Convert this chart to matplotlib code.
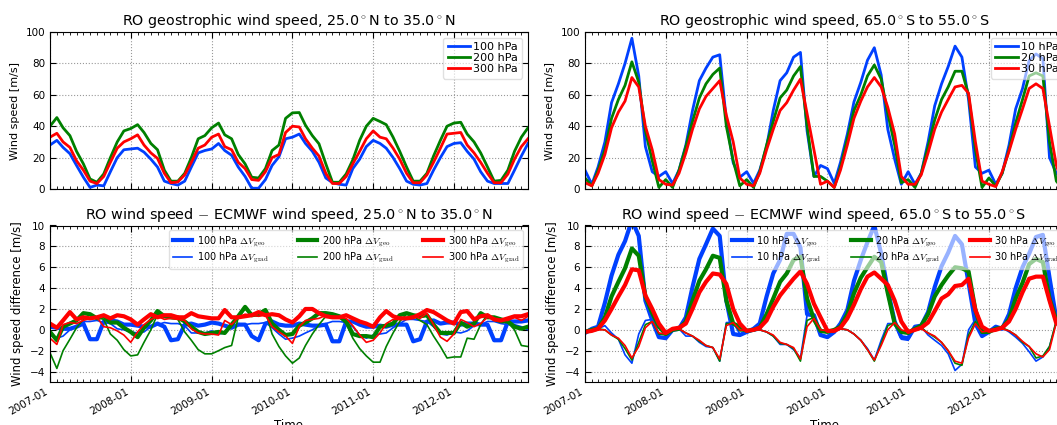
import numpy as np
import pandas as pd
import matplotlib
matplotlib.use('Agg')
import matplotlib.pyplot as plt
import matplotlib.dates as mdates

plt.rcParams['mathtext.fontset'] = 'cm'
plt.rcParams['font.family'] = 'DejaVu Sans'

dates = pd.date_range('2007-01-01', periods=72, freq='MS')

# --- geostrophic wind speed, 25N-35N [m/s]
nh_100 = [28, 31, 26.5, 22.5, 15, 7.5, 1, 2.5, 2, 11, 20, 25,
          25.5, 26, 23.5, 19, 14, 5, 3.5, 2.5, 5, 14, 23, 24.5,
          25.5, 29, 24.5, 21.5, 14, 8, 0.5, 0.5, 6, 15, 20.5, 32,
          33, 35, 29, 24, 17, 7, 4, 3, 2.5, 13, 19, 27,
          31, 29, 26, 20, 13, 5, 3, 2.5, 3.5, 12, 20, 27,
          29, 29.5, 24, 19, 11, 5, 3.5, 3.5, 3.5, 12, 21, 29]
nh_200 = [40, 45.5, 39, 34, 24, 16, 6.4, 4.3, 9.6, 20, 30, 37,
          38.5, 41, 36, 29, 25, 12, 5, 5, 10, 20, 32, 34,
          39, 42, 34.5, 32, 22, 16, 7.5, 7, 13, 24.5, 28, 45,
          48.5, 48.7, 40.6, 34, 28.8, 16, 4.3, 4.3, 9.6, 18.6, 31, 40,
          45, 43, 41, 33, 24, 14, 5, 5, 10, 21, 31, 40,
          42, 42.5, 35, 30, 23, 14, 5, 5.5, 12, 24, 33, 39]
nh_300 = [33, 35.5, 30, 26.5, 18, 12, 5, 3.5, 8, 17, 26, 30,
          32, 34.5, 28, 23, 19.5, 10, 4, 4.5, 9, 17, 26, 28,
          33, 35, 27, 25, 17, 13, 6, 5.5, 11, 20, 22, 36,
          40, 39.5, 32, 26, 21, 10, 3.5, 3.5, 8, 16, 24, 32,
          37, 33, 32, 26, 19, 10, 4, 4, 9, 17, 26, 35,
          35.5, 36, 28, 23, 17, 10, 4, 4, 9.5, 19, 27, 32]

# --- geostrophic wind speed, 65S-55S [m/s]
sh_10 = [12, 3, 14, 30, 55, 67, 80, 96, 72, 27, 11, 8,
         11, 3.5, 12, 28, 50, 69, 77, 84, 85.5, 44, 16.7, 7.5,
         11, 3.6, 12, 27, 50, 69, 74, 84, 87, 37, 8, 15,
         13, 3.6, 17, 35, 55.5, 68, 82, 90, 72.6, 38, 19, 3,
         11, 3, 10, 30, 53, 67, 78, 91, 84, 57, 14, 10,
         12, 3, 10, 28, 51, 64, 82, 86, 83, 20, 10, 5]
sh_20 = [7, 2, 12, 25, 45, 57, 66, 81, 68, 37, 18, 1,
         6, 1, 12, 27, 43, 58, 67, 73, 77, 40, 18, 2,
         6, 1, 11, 28, 43, 58, 63, 72, 78, 40, 8, 8,
         5, 1, 14, 32, 50, 60, 72, 79, 70, 48, 28, 4,
         6, 1, 10, 27, 44, 57, 65, 75, 75, 60, 25, 1,
         7, 2, 10, 25, 42, 57, 72, 74, 72, 30, 5, 0]
sh_30 = [4, 2, 10, 22, 39, 49, 56, 71, 65, 40, 25, 6,
         3, 2.5, 10, 23, 38, 51, 59, 64, 69, 47, 30, 7,
         3, 2, 10, 25, 38, 50, 55, 63, 70, 48, 25, 3,
         5, 1, 12, 28, 45, 56, 65, 71, 65, 52, 35, 8,
         3, 3, 9, 23, 38, 49, 57, 65, 66, 61, 30, 5,
         3, 1.5, 11, 24, 38, 51, 64, 67, 64, 40, 15, 3]

# --- RO - ECMWF differences, 25N-35N [m/s]
nh_100_geo = [0.3, 0.2, 0.1, 0.1, 0.3, 0.6, -0.9, -0.9, 0.8, 0.9, 0.8, 0.5,
              0.5, 0.4, 0.3, 0.3, 0.6, 0.3, -1.0, -0.9, 0.5, 0.6, 0.4, 0.5,
              0.7, 0.6, 0.4, 0.2, 0.5, 0.5, -0.6, -1.0, 0.6, 0.8, 0.5, 0.4,
              0.4, 0.6, 0.5, 0.4, 0.4, 0.5, -1.1, -1.1, 0.8, 0.8, 0.5, 0.3,
              0.3, 0.4, 0.3, 0.5, 0.5, 0.5, -1.1, -0.9, 0.8, 0.9, 0.6, 0.7,
              0.7, 0.5, 0.6, 0.6, 0.5, 0.5, -1.0, -1.0, 0.8, 0.8, 0.8, 0.9]
nh_100_grad = [-0.5, -0.8, -0.6, 0.0, 0.4, 0.8, 0.8, 0.9, 0.7, 0.6, 0.1, 0.0,
               -0.2, -0.3, -0.2, 0.3, 0.5, 0.7, 0.6, 0.6, 0.4, -0.3, -0.3, -0.3,
               -0.1, -0.4, -0.3, 0.3, 0.6, 0.5, 0.6, 0.6, 0.7, 0.2, -0.4, -0.9,
               -0.8, -0.6, -0.3, 0.0, 0.4, 0.6, 0.8, 0.8, 0.7, 0.3, -0.5, -0.8,
               -0.5, -0.4, -0.3, 0.2, 0.6, 1.0, 1.0, 0.9, 0.8, 0.3, -0.4, -0.5,
               -0.2, -0.3, -0.1, 0.4, 0.5, 0.8, 0.8, 0.6, 0.5, 0.5, 0.3, 0.0]
nh_200_geo = [-0.2, -1.0, 0.3, 0.6, 0.9, 1.6, 1.5, 1.1, 1.3, 0.7, 0.7, 0.2,
              -0.2, -0.7, 0.2, 0.9, 1.8, 1.3, 1.2, 1.2, 0.8, 0.3, -0.2, -0.4,
              -0.3, -0.2, -0.3, 0.5, 1.3, 2.2, 1.4, 1.5, 1.9, 0.6, 0.0, -0.5,
              -0.4, 0.4, 0.7, 1.1, 1.6, 1.6, 1.5, 1.3, 0.8, -0.4, -0.6, -0.6,
              -0.7, 0.3, 0.4, 0.6, 1.4, 1.6, 1.4, 1.3, 1.4, 0.5, -0.3, -0.3,
              -0.3, 0.7, 0.3, 0.6, 1.6, 1.2, 1.2, 1.0, 0.8, 0.3, 0.1, 0.3]
nh_200_grad = [-2.2, -3.7, -2.0, -0.9, 0.2, 1.0, 1.5, 1.2, 1.0, -0.4, -1.0, -1.9,
               -2.5, -2.4, -1.2, 0.0, 1.5, 1.3, 1.1, 1.0, -0.2, -1.0, -1.9, -2.3,
               -2.3, -2.0, -1.7, -1.5, 1.2, 2.0, 1.5, 1.3, 1.8, -0.4, -1.6, -2.5,
               -3.2, -2.7, -1.5, -0.4, 0.5, 1.3, 1.4, 1.2, 0.6, -0.8, -1.8, -2.5,
               -3.1, -3.1, -1.6, -0.3, 0.8, 1.5, 1.3, 0.9, 0.5, -0.6, -1.6, -2.7,
               -2.6, -2.6, -0.8, -0.9, 0.5, 1.5, 0.9, 0.7, 0.7, 0.0, -1.5, -1.6]
nh_300_geo = [0.6, 0.2, 0.9, 1.7, 1.0, 1.2, 1.1, 1.2, 1.4, 1.1, 1.4, 1.3,
              1.0, 0.5, 1.0, 1.5, 1.2, 1.4, 1.4, 1.2, 1.2, 1.6, 1.3, 1.2,
              1.1, 1.1, 1.9, 1.2, 1.2, 1.3, 1.4, 1.7, 1.4, 1.5, 1.4, 1.0,
              0.7, 1.3, 2.0, 2.0, 1.6, 1.3, 1.2, 1.2, 1.4, 1.1, 0.8, 0.6,
              0.3, 1.2, 1.8, 1.3, 1.1, 1.1, 1.2, 1.5, 1.9, 1.7, 1.3, 0.9,
              0.6, 1.7, 1.8, 1.0, 1.3, 1.4, 1.0, 0.9, 1.1, 1.3, 1.3, 1.5]
nh_300_grad = [-0.8, -1.4, 0.5, 0.7, 0.6, 0.9, 1.1, 1.2, 0.3, 0.2, -0.1, -0.5,
               -1.2, -0.2, 0.5, 1.0, 1.3, 1.0, 1.1, 1.0, 0.9, 0.1, -0.3, -0.4,
               -0.4, -0.5, 0.9, 0.5, 1.2, 1.5, 1.4, 1.3, 1.4, 0.3, -0.2, -0.6,
               -1.3, 0.3, 0.9, 1.0, 1.1, 1.4, 1.3, 1.2, 1.1, 0.4, -0.5, -1.2,
               -1.0, -0.3, 0.6, 1.0, 1.0, 1.2, 1.3, 1.1, 1.6, 0.5, -0.7, -1.1,
               -0.4, 1.0, 0.7, 0.3, 0.6, 1.2, 1.1, 0.9, 0.9, 1.2, 0.9, 1.3]

# --- RO - ECMWF differences, 65S-55S [m/s]
sh_10_geo = [-0.3, 0.1, 0.3, 2.6, 5.2, 7.2, 8.5, 10.5, 9.0, 2.8, 0.9, -0.7,
             -0.8, 0.0, 0.1, 1.2, 4.1, 6.8, 8.2, 9.7, 9.0, 2.8, -0.4, -0.5,
             -0.2, 0.1, 0.6, 3.2, 5.4, 6.7, 9.2, 9.2, 7.9, 1.5, 1.4, -0.5,
             -0.7, -0.2, 0.6, 1.9, 4.7, 6.7, 8.4, 10.0, 7.3, 3.8, 0.8, -0.7,
             -0.8, 0.3, 0.4, 1.7, 4.1, 6.1, 7.4, 9.0, 8.2, 4.5, 0.6, -0.6,
             -0.2, 0.3, 0.1, 1.5, 4.0, 6.0, 7.3, 8.9, 9.1, 5.0, 1.0, -0.4]
sh_10_grad = [-0.3, 0.0, 0.1, 0.4, -0.3, -0.9, -2.4, -3.2, -0.4, 0.9, 1.0, -0.7,
              -0.8, -0.1, 0.1, -0.6, -0.6, -1.2, -1.6, -1.7, -3.0, 0.7, 0.7, -0.4,
              -0.3, -0.1, 0.0, -0.2, -0.6, -1.4, -1.4, -1.9, -2.7, 1.4, 1.3, -0.6,
              -0.6, -0.2, 0.1, 0.0, -0.4, -1.0, -1.8, -2.9, -1.0, 0.6, 0.6, -0.9,
              -1.0, 0.3, 0.3, -0.5, -1.0, -1.5, -2.3, -3.9, -3.3, 0.0, 1.0, -0.3,
              -0.2, 0.3, 0.2, -0.2, -0.7, -1.3, -2.1, -3.0, -2.6, -1.6, 0.8, 0.6]
sh_20_geo = [-0.2, 0.0, 0.1, 1.2, 3.2, 4.6, 5.9, 7.8, 7.1, 3.2, 1.6, 0.3,
             -0.4, 0.0, 0.1, 0.8, 2.8, 4.7, 5.8, 7.1, 6.9, 2.8, 0.6, 0.3,
             -0.1, 0.0, 0.2, 1.5, 3.0, 4.6, 5.4, 6.7, 7.0, 3.0, 1.0, -0.1,
             -0.2, 0.0, 0.3, 1.5, 3.5, 5.0, 6.0, 7.0, 6.5, 3.5, 0.6, -0.2,
             -0.3, 0.1, 0.4, 1.5, 3.2, 4.3, 5.2, 6.0, 5.9, 5.6, 1.9, -0.2,
             -0.2, 0.1, 0.2, 1.0, 3.0, 4.5, 6.3, 6.8, 6.5, 3.0, 0.9, 0.6]
sh_20_grad = [-0.2, 0.0, 0.1, 0.0, -0.5, -0.9, -1.8, -2.9, -1.2, 0.5, 0.8, -0.4,
              -0.5, 0.0, 0.1, -0.3, -0.6, -1.1, -1.5, -1.7, -3.0, 0.6, 0.6, -0.1,
              -0.1, 0.0, 0.0, -0.2, -0.6, -1.3, -1.4, -1.8, -3.0, 0.9, 1.2, -0.2,
              -0.2, 0.0, 0.1, 0.0, -0.4, -1.0, -1.9, -3.0, -1.3, 0.4, 0.7, -0.2,
              -0.3, 0.1, 0.2, -0.3, -0.7, -1.2, -2.0, -3.2, -3.4, -0.5, 0.8, -0.3,
              -0.2, 0.2, 0.2, -0.1, -0.5, -1.2, -1.6, -2.7, -2.5, -1.6, 0.9, 0.3]
sh_30_geo = [-0.2, -0.1, 0.1, 0.9, 2.0, 3.2, 4.3, 5.8, 5.7, 3.3, 2.0, 0.6,
             -0.3, 0.1, 0.2, 0.6, 2.0, 3.6, 4.6, 5.4, 5.3, 4.4, 2.0, 0.6,
             -0.1, 0.0, 0.2, 0.9, 2.2, 3.3, 4.1, 4.9, 5.6, 4.4, 2.5, 1.2,
             -0.1, -0.1, 0.2, 1.1, 2.4, 3.9, 5.1, 5.5, 4.9, 4.3, 2.8, 0.8,
             -0.2, 0.0, 0.2, 0.7, 1.8, 3.0, 3.4, 4.2, 4.3, 4.9, 1.9, 0.3,
             -0.1, 0.0, 0.2, 0.8, 2.0, 3.6, 4.9, 5.1, 5.1, 2.8, 0.6, 0.5]
sh_30_grad = [-0.2, -0.1, 0.0, 0.0, -0.5, -0.8, -1.5, -2.7, -1.6, 0.2, 0.8, -0.3,
              -0.4, 0.0, 0.1, -0.3, -0.6, -1.0, -1.5, -1.7, -2.8, 0.4, 0.7, 0.0,
              -0.1, 0.0, 0.0, -0.2, -0.5, -1.2, -1.4, -1.7, -2.8, 0.3, 1.1, 0.0,
              -0.1, -0.1, 0.1, 0.0, -0.4, -1.0, -1.9, -2.9, -1.5, 0.0, 0.7, 0.0,
              -0.2, 0.0, 0.1, -0.3, -0.6, -1.2, -2.0, -3.0, -3.2, -0.8, 0.6, -0.2,
              -0.1, 0.1, 0.1, -0.1, -0.5, -1.1, -1.6, -2.3, -2.6, -1.9, 0.7, 0.5]

colors = ['#0040ff', '#008000', '#ff0000']

fig = plt.figure(figsize=(10.57, 4.25), dpi=100)
W, H = 1057.0, 425.0
axw = 478 / W
ax_tl = fig.add_axes([50 / W, 1 - 189 / H, axw, 157 / H])
ax_tr = fig.add_axes([585 / W, 1 - 189 / H, axw, 157 / H])
ax_bl = fig.add_axes([50 / W, 1 - 382 / H, axw, 156.5 / H])
ax_br = fig.add_axes([585 / W, 1 - 382 / H, axw, 156.5 / H])


def style_axes(ax, bottom_labels):
    ax.set_xlim(dates[0], dates[-1])
    ax.xaxis.set_major_locator(mdates.YearLocator())
    ax.xaxis.set_minor_locator(mdates.MonthLocator())
    ax.xaxis.set_major_formatter(mdates.DateFormatter('%Y-%m'))
    ax.tick_params(which='both', direction='in', top=True, right=True,
                   labelsize=7.5)
    ax.tick_params(which='major', length=4, width=0.8)
    ax.tick_params(which='minor', length=2, width=0.6)
    ax.grid(True, which='major', linestyle=':', color='0.6', linewidth=0.8)
    if bottom_labels:
        for lab in ax.get_xticklabels():
            lab.set_rotation(30)
            lab.set_ha('right')
        ax.set_xlabel('Time', fontsize=8.5, labelpad=1)
    else:
        ax.tick_params(axis='x', labelbottom=False)


# top row
for ax, series, labels, title, anchor in [
        (ax_tl, [nh_100, nh_200, nh_300], ['100 hPa', '200 hPa', '300 hPa'],
         r'RO geostrophic wind speed, 25.0$^\circ$N to 35.0$^\circ$N', 1.0),
        (ax_tr, [sh_10, sh_20, sh_30], ['10 hPa', '20 hPa', '30 hPa'],
         r'RO geostrophic wind speed, 65.0$^\circ$S to 55.0$^\circ$S', 1.012)]:
    for s, lab, c in zip(series, labels, colors):
        ax.plot(dates, s, color=c, lw=2, label=lab)
    ax.set_ylim(0, 100)
    ax.set_yticks(np.arange(0, 101, 20))
    ax.set_ylabel('Wind speed [m/s]', fontsize=8)
    ax.set_title(title, fontsize=10.3, pad=5)
    ax.legend(loc='upper right', bbox_to_anchor=(anchor, 1), fontsize=8,
              handlelength=2, labelspacing=0.1, handletextpad=0.3,
              borderpad=0.4, framealpha=0.6)
    style_axes(ax, False)

# bottom row
for ax, geo, grad, levels, title, anchor in [
        (ax_bl, [nh_100_geo, nh_200_geo, nh_300_geo],
         [nh_100_grad, nh_200_grad, nh_300_grad], ['100', '200', '300'],
         r'RO wind speed $-$ ECMWF wind speed, 25.0$^\circ$N to 35.0$^\circ$N', 1.0),
        (ax_br, [sh_10_geo, sh_20_geo, sh_30_geo],
         [sh_10_grad, sh_20_grad, sh_30_grad], ['10', '20', '30'],
         r'RO wind speed $-$ ECMWF wind speed, 65.0$^\circ$S to 55.0$^\circ$S', 1.012)]:
    for g, d, lev, c in zip(geo, grad, levels, colors):
        ax.plot(dates, g, color=c, lw=3, label=lev + r' hPa $\Delta V_{\rm geo}$')
        ax.plot(dates, d, color=c, lw=1.2, label=lev + r' hPa $\Delta V_{\rm grad}$')
    ax.set_ylim(-5, 10)
    ax.set_yticks(np.arange(-4, 11, 2))
    ax.set_ylabel('Wind speed difference [m/s]', fontsize=8.4)
    ax.set_title(title, fontsize=10.4, pad=5)
    ax.legend(loc='upper right', bbox_to_anchor=(anchor, 1), ncol=3,
              fontsize=7, handlelength=2, columnspacing=3.0,
              labelspacing=0.2, handletextpad=0.5, framealpha=0.6)
    style_axes(ax, True)

plt.savefig('out.png', dpi=100)
